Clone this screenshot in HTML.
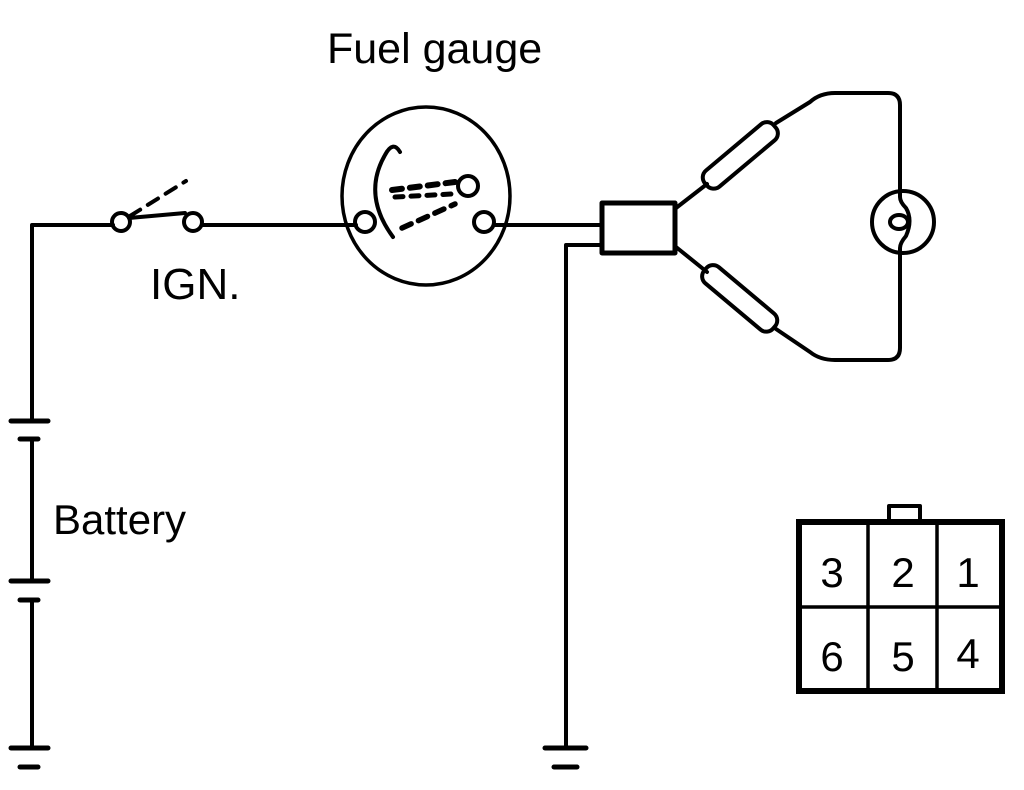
<!DOCTYPE html>
<html><head><style>body{margin:0;background:#fff}svg{display:block}</style></head>
<body>
<svg width="1024" height="790" viewBox="0 0 1024 790" xmlns="http://www.w3.org/2000/svg" font-family="Liberation Sans, sans-serif">
<g fill="none" stroke="#000" stroke-width="4" stroke-linecap="round" stroke-linejoin="round">
<polyline points="113,225 32,225 32,421"/>
<line x1="11" y1="421" x2="48" y2="421" stroke-width="5"/>
<line x1="20" y1="439" x2="38" y2="439" stroke-width="5"/>
<line x1="32" y1="439" x2="32" y2="581"/>
<line x1="11" y1="581" x2="48" y2="581" stroke-width="5"/>
<line x1="20" y1="600" x2="38" y2="600" stroke-width="5"/>
<line x1="32" y1="600" x2="32" y2="748"/>
<line x1="11" y1="748" x2="48" y2="748" stroke-width="5"/>
<line x1="20" y1="767" x2="38" y2="767" stroke-width="5"/>
<circle cx="121" cy="222" r="9"/>
<circle cx="193" cy="222" r="9"/>
<line x1="129" y1="218" x2="185" y2="213"/>
<line x1="130" y1="216" x2="186" y2="181" stroke-dasharray="12,9"/>
<line x1="202" y1="225" x2="356" y2="225"/>
<ellipse cx="426" cy="196" rx="84" ry="89" stroke-width="3.5"/>
<circle cx="365" cy="222" r="10"/>
<circle cx="484" cy="222" r="10"/>
<path d="M400,152 Q393,140 385,155 Q362,195 393,237"/>
<circle cx="468" cy="186" r="10"/>
<line x1="392" y1="190" x2="455" y2="182" stroke-dasharray="10,8" stroke-width="6"/>
<line x1="395" y1="197" x2="452" y2="194" stroke-dasharray="8,8" stroke-width="5"/>
<line x1="402" y1="228" x2="455" y2="204" stroke-dasharray="10,8" stroke-width="5.5"/>
<line x1="494" y1="225" x2="601" y2="225"/>
<rect x="602" y="203" width="73" height="50" stroke-width="5"/>
<polyline points="601,245 566,245 566,748"/>
<line x1="545" y1="748" x2="586" y2="748" stroke-width="5"/>
<line x1="554" y1="767" x2="577" y2="767" stroke-width="5"/>
<line x1="676" y1="208" x2="707" y2="184"/>
<g transform="translate(740,155) rotate(-40)"><rect x="-45" y="-10" width="90" height="21" rx="9"/></g>
<path d="M776,123 L810,102 Q820,93 835,93 L888,93 Q900,93 900,105 L900,197 Q900,202 906,208 Q913,220 906,236 Q900,243 900,248 L900,348 Q900,360 888,360 L835,360 Q820,360 810,352 L776,329"/>
<line x1="676" y1="247" x2="707" y2="272"/>
<g transform="translate(740,298) rotate(40)"><rect x="-45" y="-10" width="90" height="21" rx="9"/></g>
<circle cx="903" cy="222" r="31"/>
<ellipse cx="899" cy="222" rx="9" ry="7"/>
<rect x="889" y="506" width="31" height="15" stroke-width="4" stroke-linecap="butt"/>
<rect x="799" y="522" width="203" height="169" stroke-width="6" stroke-linejoin="miter"/>
<line x1="868" y1="522" x2="868" y2="691" stroke-width="3.5"/>
<line x1="937" y1="522" x2="937" y2="691" stroke-width="3.5"/>
<line x1="799" y1="607" x2="1002" y2="607" stroke-width="3.5"/>
</g>
<g fill="#000" font-size="43">
<text x="327" y="63">Fuel gauge</text>
<text x="150" y="299" font-size="44">IGN.</text>
<text x="53" y="534" font-size="42">Battery</text>
</g>
<g fill="#000" font-size="42" text-anchor="middle">
<text x="832" y="587">3</text><text x="903" y="587">2</text><text x="968" y="587">1</text>
<text x="832" y="671">6</text><text x="903" y="671">5</text><text x="968" y="668">4</text>
</g>
</svg>
</body></html>
